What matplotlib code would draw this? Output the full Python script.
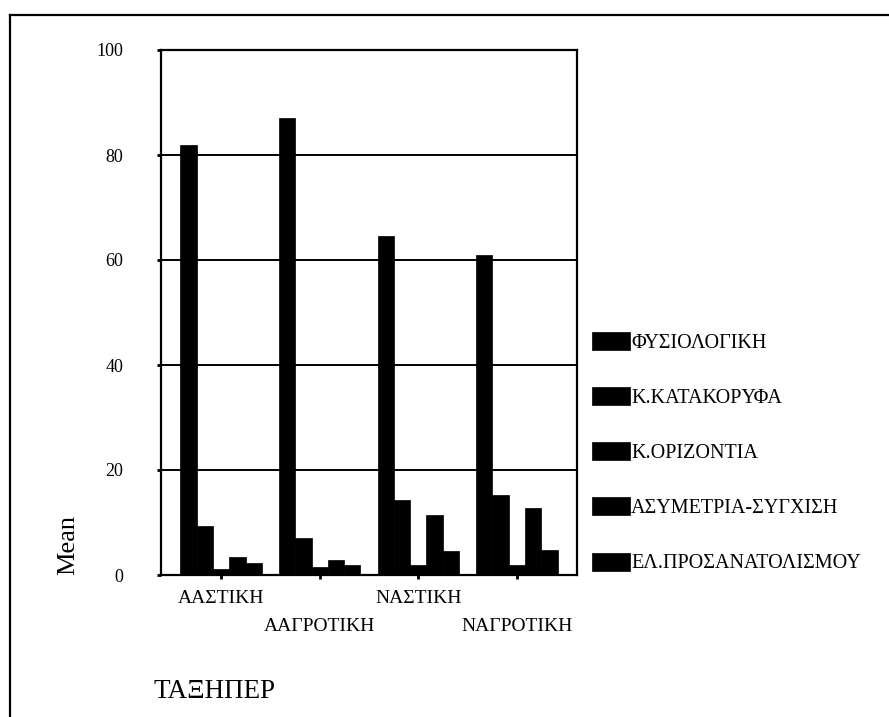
import numpy as np
import matplotlib
matplotlib.use("Agg")
import matplotlib.pyplot as plt
from matplotlib.lines import Line2D

plt.rcParams['font.family'] = ['Liberation Serif', 'DejaVu Serif']

# groups on the x axis (staggered labels)
groups = ['ΑΑΣΤΙΚΗ', 'ΑΑΓΡΟΤΙΚΗ', 'ΝΑΣΤΙΚΗ', 'ΝΑΓΡΟΤΙΚΗ']

# series (legend) and their means per group
series = ['ΦΥΣΙΟΛΟΓΙΚΗ', 'Κ.ΚΑΤΑΚΟΡΥΦΑ', 'Κ.ΟΡΙΖΟΝΤΙΑ',
          'ΑΣΥΜΕΤΡΙΑ-ΣΥΓΧΙΣΗ', 'ΕΛ.ΠΡΟΣΑΝΑΤΟΛΙΣΜΟΥ']
fysiologiki = [82.0, 87.0, 64.6, 61.0]
k_katakoryfa = [9.3, 7.0, 14.3, 15.2]
k_orizontia = [1.1, 1.5, 1.9, 2.0]
asymetria = [3.5, 2.9, 11.4, 12.7]
el_prosan = [2.2, 1.9, 4.6, 4.8]
values = [fysiologiki, k_katakoryfa, k_orizontia, asymetria, el_prosan]

yticks = [0, 20, 40, 60, 80, 100]

W, H = 889, 717
fig = plt.figure(figsize=(W / 100, H / 100), dpi=100)
ax = fig.add_axes([161 / W, 1 - 575 / H, 416 / W, 525 / H])

x = np.arange(len(groups))
bw = 0.165
for i, (name, vals) in enumerate(zip(series, values)):
    ax.bar(x + (i - 2) * bw, vals, width=bw, color='black',
           edgecolor='black', linewidth=0.5, label=name, zorder=3)

ax.set_ylim(0, 100)
ax.set_xlim(-0.61, 3.61)
ax.set_yticks(yticks)
ax.yaxis.grid(True, color='black', linewidth=1.4, zorder=1)
ax.set_axisbelow(True)

ax.set_xticks(x)
ax.set_xticklabels([g if k % 2 == 0 else '\n' + g for k, g in enumerate(groups)],
                   fontsize=14, linespacing=1.85)
ax.tick_params(axis='x', length=3, width=2, pad=8, color='black')
ax.tick_params(axis='y', length=3, width=2, pad=24, labelsize=13)

for s in ax.spines.values():
    s.set_linewidth(1.6)
    s.set_color('black')

# axis titles
fig.text(68 / W, 1 - 545 / H, 'Mean', rotation=90, fontsize=19,
         ha='center', va='center')
fig.text(153 / W, 1 - 692 / H, 'ΤΑΞΗΠΕΡ', fontsize=19.5, ha='left', va='center')

# legend
fig.legend(loc='upper left', bbox_to_anchor=(592 / W, 1 - 332 / H),
           frameon=False, fontsize=14.5, handlelength=1.9, handleheight=1.0,
           handletextpad=0.05, labelspacing=1.7, borderpad=0, borderaxespad=0)

# page frame (top and left edges visible)
fig.add_artist(Line2D([10 / W, 1], [1 - 15 / H, 1 - 15 / H],
                      transform=fig.transFigure, color='black', linewidth=1.6))
fig.add_artist(Line2D([10 / W, 10 / W], [0, 1 - 15 / H],
                      transform=fig.transFigure, color='black', linewidth=1.6))

fig.savefig('out.png', dpi=100)
